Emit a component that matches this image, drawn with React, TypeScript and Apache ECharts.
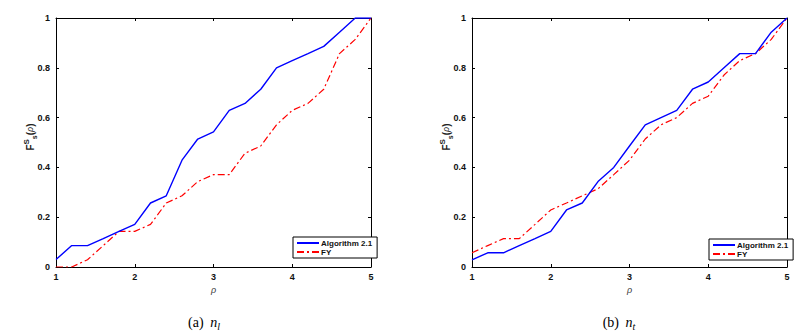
import React, { useEffect, useRef } from "react";
import * as echarts from "echarts";

const rho = [1, 1.2, 1.4, 1.6, 1.8, 2, 2.2, 2.4, 2.6, 2.8, 3, 3.2, 3.4, 3.6, 3.8, 4, 4.2, 4.4, 4.6, 4.8, 5];
const algLeft = [0.03, 0.086, 0.086, 0.114, 0.143, 0.171, 0.257, 0.286, 0.429, 0.514, 0.543, 0.629, 0.657, 0.714, 0.8, 0.829, 0.857, 0.886, 0.943, 1.0, 1.0];
const fyLeft = [0, 0, 0.029, 0.086, 0.143, 0.143, 0.171, 0.257, 0.286, 0.343, 0.371, 0.371, 0.457, 0.486, 0.571, 0.629, 0.657, 0.714, 0.857, 0.914, 1.0];
const algRight = [0.029, 0.057, 0.057, 0.086, 0.114, 0.143, 0.229, 0.257, 0.343, 0.4, 0.486, 0.571, 0.6, 0.629, 0.714, 0.743, 0.8, 0.857, 0.857, 0.943, 1.0];
const fyRight = [0.057, 0.086, 0.114, 0.114, 0.171, 0.229, 0.257, 0.286, 0.314, 0.371, 0.429, 0.514, 0.571, 0.6, 0.657, 0.686, 0.771, 0.829, 0.857, 0.914, 1.0];
const seriesNames = ["Algorithm 2.1", "FY"];
const captionTags = ["(a)", "(b)"];
const captionSubs = ["l", "t"];

const FONT = "Liberation Sans";
const SERIF = "Liberation Serif";

function pairs(ys: number[]) {
  return rho.map((x, i) => [x, ys[i]]);
}

export default function App() {
  const ref = useRef<HTMLDivElement>(null);
  useEffect(() => {
    document.body.style.margin = "0";
    const chart = echarts.init(ref.current!, null, { renderer: "svg" });
    const grids = [
      { left: 56, top: 18, width: 315, height: 249 },
      { left: 472, top: 18, width: 315, height: 249 },
    ];
    const xAxes: any[] = [];
    const yAxes: any[] = [];
    grids.forEach((_, g) => {
      xAxes.push({
        type: "value", gridIndex: g, min: 1, max: 5, interval: 1, position: "bottom",
        axisLine: { show: true, onZero: false, lineStyle: { color: "#000", width: 1 } },
        axisTick: { show: true, inside: true, length: 3, lineStyle: { color: "#000" } },
        axisLabel: { color: "#111", fontSize: 9, fontWeight: "bold", fontFamily: FONT, margin: 5 },
        splitLine: { show: false },
        name: "ρ", nameLocation: "middle", nameGap: 15,
        nameTextStyle: { fontFamily: FONT, fontSize: 9, fontStyle: "italic", color: "#333" },
      });
      xAxes.push({
        type: "value", gridIndex: g, min: 1, max: 5, interval: 1, position: "top",
        axisLine: { show: true, onZero: false, lineStyle: { color: "#000", width: 1 } },
        axisTick: { show: true, inside: true, length: 3, lineStyle: { color: "#000" } },
        axisLabel: { show: false }, splitLine: { show: false },
      });
      yAxes.push({
        type: "value", gridIndex: g, min: 0, max: 1, interval: 0.2, position: "left",
        axisLine: { show: true, onZero: false, lineStyle: { color: "#000", width: 1 } },
        axisTick: { show: true, inside: true, length: 3, lineStyle: { color: "#000" } },
        axisLabel: { color: "#111", fontSize: 9, fontWeight: "bold", fontFamily: FONT, margin: 6 },
        splitLine: { show: false },
      });
      yAxes.push({
        type: "value", gridIndex: g, min: 0, max: 1, interval: 0.2, position: "right",
        axisLine: { show: true, onZero: false, lineStyle: { color: "#000", width: 1 } },
        axisTick: { show: true, inside: true, length: 3, lineStyle: { color: "#000" } },
        axisLabel: { show: false }, splitLine: { show: false },
      });
    });
    const mk = (name: string, ys: number[], g: number, isFY: boolean) => ({
      type: "line", name, xAxisIndex: g * 2, yAxisIndex: g * 2, data: pairs(ys),
      symbol: "none", showSymbol: false,
      lineStyle: isFY
        ? { color: "#ff0000", width: 1.2, type: [7, 3, 2, 3] }
        : { color: "#0000ff", width: 1.4, type: "solid" },
      itemStyle: { color: isFY ? "#ff0000" : "#0000ff" },
      z: isFY ? 2 : 3,
    });
    const legendBase = {
      orient: "vertical", selectedMode: false, data: seriesNames,
      backgroundColor: "#fff", borderColor: "#000", borderWidth: 1,
      itemWidth: 22, itemHeight: 8, itemGap: 1, padding: [2, 5, 2, 3],
      itemStyle: { opacity: 0 },
      textStyle: { fontFamily: FONT, fontSize: 8, fontWeight: "bold", color: "#111", padding: [0, 0, 0, -3] },
    };
    const yLabelRich = {
      f: { fontFamily: FONT, fontSize: 10, fontWeight: "bold", fill: "#222", lineHeight: 16, verticalAlign: "middle" },
      sup: { fontFamily: FONT, fontSize: 8, fontWeight: "bold", fill: "#222", verticalAlign: "top", lineHeight: 16 },
      sub: { fontFamily: FONT, fontSize: 7, fontWeight: "bold", fill: "#222", verticalAlign: "bottom", lineHeight: 16 },
      rho: { fontFamily: FONT, fontSize: 9, fontStyle: "italic", fill: "#222", lineHeight: 16, verticalAlign: "middle" },
    };
    const yLabels = [30, 446].map((x) => ({
      type: "text", x, y: 137, rotation: Math.PI / 2,
      style: {
        text: "{f|F}{sup|S}{sub|s}{f|(}{rho|ρ}{f|)}",
        align: "center", verticalAlign: "middle", rich: yLabelRich,
      },
    }));
    const captions = [
      { x: 204, y: 322 },
      { x: 619, y: 322 },
    ].map((p, i) => ({
      type: "text", x: p.x, y: p.y,
      style: {
        text: `{t|${captionTags[i]}}  {n|n}{s|${captionSubs[i]}}`,
        align: "center", verticalAlign: "middle",
        rich: {
          t: { fontFamily: SERIF, fontSize: 14, fill: "#000", lineHeight: 18, verticalAlign: "middle" },
          n: { fontFamily: SERIF, fontSize: 14, fontStyle: "italic", fill: "#000", lineHeight: 18, verticalAlign: "middle" },
          s: { fontFamily: SERIF, fontSize: 10, fontStyle: "italic", fill: "#000", lineHeight: 18, verticalAlign: "bottom" },
        },
      },
    }));
    chart.setOption({
      animation: false,
      backgroundColor: "#fff",
      grid: grids,
      xAxis: xAxes,
      yAxis: yAxes,
      legend: [
        { ...legendBase, left: 293, top: 237 },
        { ...legendBase, left: 709, top: 239 },
      ],
      series: [
        mk(seriesNames[0], algLeft, 0, false),
        mk(seriesNames[1], fyLeft, 0, true),
        mk(seriesNames[0], algRight, 1, false),
        mk(seriesNames[1], fyRight, 1, true),
      ],
      graphic: [...yLabels, ...captions],
    });
    return () => chart.dispose();
  }, []);
  return <div ref={ref} style={{ position: "absolute", left: 0, top: 0, width: 811, height: 333 }} />;
}
